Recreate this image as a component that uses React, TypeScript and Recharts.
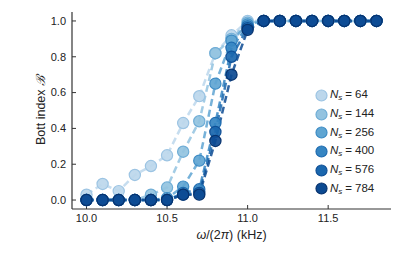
import React from "react";
import { LineChart, Line, XAxis, YAxis, Legend } from "recharts";

// ω/(2π) in kHz
const omega = [
  10.0, 10.1, 10.2, 10.3, 10.4, 10.5, 10.6, 10.7, 10.8, 10.9,
  11.0, 11.1, 11.2, 11.3, 11.4, 11.5, 11.6, 11.7, 11.8,
];

// Bott index per system size
const bott64 = [0.03, 0.09, 0.05, 0.14, 0.19, 0.25, 0.43, 0.58, 0.82, 0.92, 1.0, 1.0, 1.0, 1.0, 1.0, 1.0, 1.0, 1.0, 1.0];
const bott144 = [0.0, 0.0, 0.0, 0.0, 0.03, 0.07, 0.27, 0.44, 0.82, 0.9, 0.99, 1.0, 1.0, 1.0, 1.0, 1.0, 1.0, 1.0, 1.0];
const bott256 = [0.0, 0.0, 0.0, 0.0, 0.0, 0.01, 0.075, 0.22, 0.65, 0.89, 0.98, 1.0, 1.0, 1.0, 1.0, 1.0, 1.0, 1.0, 1.0];
const bott400 = [0.0, 0.0, 0.0, 0.0, 0.0, 0.0, 0.04, 0.06, 0.43, 0.85, 0.97, 1.0, 1.0, 1.0, 1.0, 1.0, 1.0, 1.0, 1.0];
const bott576 = [0.0, 0.0, 0.0, 0.0, 0.0, 0.0, 0.03, 0.04, 0.38, 0.8, 0.96, 1.0, 1.0, 1.0, 1.0, 1.0, 1.0, 1.0, 1.0];
const bott784 = [0.0, 0.0, 0.0, 0.0, 0.0, 0.0, 0.03, 0.03, 0.33, 0.7, 0.95, 1.0, 1.0, 1.0, 1.0, 1.0, 1.0, 1.0, 1.0];

const xTicks = [10.0, 10.5, 11.0, 11.5];
const yTicks = [0.0, 0.2, 0.4, 0.6, 0.8, 1.0];

const series = [
  { key: "n64", size: 64, values: bott64, fill: "#bcd7ec", edge: "#9cc4e3" },
  { key: "n144", size: 144, values: bott144, fill: "#93c3e0", edge: "#6fadd6" },
  { key: "n256", size: 256, values: bott256, fill: "#5fa5d2", edge: "#3d8bc4" },
  { key: "n400", size: 400, values: bott400, fill: "#3585c2", edge: "#1f6cb0" },
  { key: "n576", size: 576, values: bott576, fill: "#1a67ae", edge: "#0f4f96" },
  { key: "n784", size: 784, values: bott784, fill: "#0c4a92", edge: "#08336e" },
];

const data = omega.map((w, i) => {
  const row: Record<string, number> = { w };
  series.forEach((s) => {
    row[s.key] = s.values[i];
  });
  return row;
});

const FONT = "'Liberation Sans', Arial, Helvetica, sans-serif";
const INK = "#222";
const FRAME = "#333";

function XTitle(props: any) {
  const { viewBox } = props;
  const cx = viewBox.x + viewBox.width / 2;
  return (
    <text x={cx} y={viewBox.y + 30} textAnchor="middle" fontSize={12.5} fill={INK} fontFamily={FONT}>
      <tspan fontStyle="italic">ω</tspan>
      <tspan>/(2</tspan>
      <tspan fontStyle="italic">π</tspan>
      <tspan>) (kHz)</tspan>
    </text>
  );
}

function YTitle(props: any) {
  const { viewBox } = props;
  const cy = viewBox.y + viewBox.height / 2;
  const x = 45;
  return (
    <text
      x={x}
      y={cy}
      textAnchor="middle"
      fontSize={12.5}
      fill={INK}
      fontFamily={FONT}
      transform={`rotate(-90 ${x} ${cy})`}
    >
      Bott index <tspan fontStyle="italic">ℬ</tspan>
    </text>
  );
}

function SizeLegend() {
  return (
    <div style={{ fontFamily: FONT, fontSize: 11.5, color: INK }}>
      {series.map((s) => (
        <div key={s.key} style={{ display: "flex", alignItems: "center", height: 18.7 }}>
          <svg width={13} height={13} style={{ marginRight: 2 }}>
            <circle cx={6.5} cy={6.5} r={5.5} fill={s.fill} stroke={s.edge} strokeWidth={1.2} />
          </svg>
          <span>
            <i>N</i>
            <sub style={{ fontSize: 8, fontStyle: "italic", verticalAlign: "-2px" }}>s</sub>
            <span style={{ margin: "0 3px" }}>=</span>
            {s.size}
          </span>
        </div>
      ))}
    </div>
  );
}

// plain circle marker, so the line's dash pattern does not leak onto it
function makeDot(fill: string, edge: string) {
  return (props: any) => {
    const { cx, cy, index } = props;
    if (cx == null || cy == null) return <g key={index} />;
    return (
      <circle key={index} cx={cx} cy={cy} r={5.6} fill={fill} fillOpacity={0.92} stroke={edge} strokeWidth={1.2} />
    );
  };
}

const tickStyle = { fontSize: 11, fill: INK, fontFamily: FONT };

export default function App() {
  return (
    <div style={{ position: "absolute", left: 0, top: 0, width: 415, height: 257, background: "#fff" }}>
      <LineChart width={415} height={257} data={data} margin={{ top: 12, right: 24, bottom: 0, left: 0 }}>
        <XAxis
          xAxisId="b"
          dataKey="w"
          type="number"
          domain={[9.91, 11.89]}
          ticks={xTicks}
          tickFormatter={(v: number) => v.toFixed(1)}
          height={48}
          tickSize={-4}
          tickMargin={9}
          tick={tickStyle}
          stroke={FRAME}
          tickLine={{ stroke: FRAME }}
          axisLine={{ stroke: FRAME, strokeWidth: 1.2 }}
          allowDataOverflow
          label={<XTitle />}
        />
        <XAxis
          xAxisId="t"
          orientation="top"
          dataKey="w"
          type="number"
          domain={[9.91, 11.89]}
          ticks={xTicks}
          height={0}
          tickSize={-4}
          tick={false}
          stroke={FRAME}
          tickLine={{ stroke: FRAME }}
          axisLine={{ stroke: FRAME, strokeWidth: 1.2 }}
          allowDataOverflow
        />
        <YAxis
          yAxisId="l"
          type="number"
          domain={[-0.05, 1.05]}
          ticks={yTicks}
          tickFormatter={(v: number) => v.toFixed(1)}
          width={72}
          tickSize={-4}
          tickMargin={10}
          tick={tickStyle}
          stroke={FRAME}
          tickLine={{ stroke: FRAME }}
          axisLine={{ stroke: FRAME, strokeWidth: 1.2 }}
          allowDataOverflow
          label={<YTitle />}
        />
        <YAxis
          yAxisId="r"
          orientation="right"
          type="number"
          domain={[-0.05, 1.05]}
          ticks={yTicks}
          width={0}
          tickSize={-4}
          tick={false}
          stroke={FRAME}
          tickLine={{ stroke: FRAME }}
          axisLine={{ stroke: FRAME, strokeWidth: 1.2 }}
          allowDataOverflow
        />
        <Legend
          layout="vertical"
          align="center"
          verticalAlign="middle"
          content={<SizeLegend />}
          wrapperStyle={{ left: 315, top: 86, width: 80 }}
        />
        {series.map((s) => (
          <Line
            key={s.key}
            xAxisId="b"
            yAxisId="l"
            dataKey={s.key}
            type="linear"
            stroke={s.fill}
            strokeOpacity={0.85}
            strokeWidth={2.5}
            strokeDasharray="7 4"
            dot={makeDot(s.fill, s.edge)}
            activeDot={false}
            isAnimationActive={false}
            legendType="circle"
          />
        ))}
      </LineChart>
    </div>
  );
}
